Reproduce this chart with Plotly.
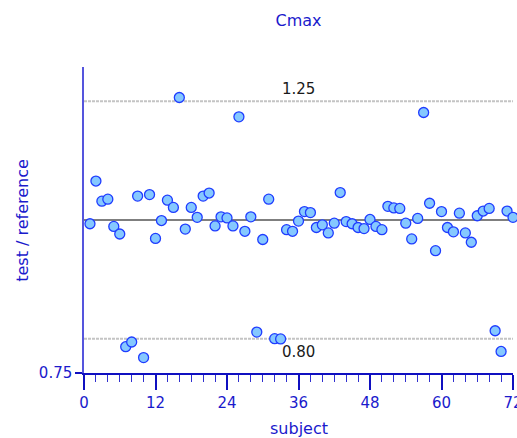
import numpy as np
import plotly.graph_objects as go

# Test / reference ratio of Cmax for each subject
subjects = list(range(1, 73))
ratios = [
    0.993, 1.076, 1.036, 1.040, 0.988, 0.974, 0.788, 0.795, 1.046, 0.772,
    1.049, 0.966, 0.999, 1.038, 1.024, 1.259, 0.983, 1.024, 1.005, 1.046,
    1.052, 0.989, 1.006, 1.004, 0.989, 1.214, 0.979, 1.006, 0.810, 0.964,
    1.040, 0.800, 0.7996, 0.982, 0.979, 0.998, 1.016, 1.014, 0.986, 0.991,
    0.976, 0.994, 1.053, 0.997, 0.993, 0.986, 0.984, 1.001, 0.988, 0.982,
    1.026, 1.023, 1.022, 0.994, 0.965, 1.003, 1.224, 1.032, 0.944, 1.016,
    0.986, 0.978, 1.013, 0.976, 0.959, 1.008, 1.017, 1.022, 0.812, 0.781,
    1.017, 1.005,
]

# Acceptance limits and unity line
limits = [0.80, 1.25]
limit_labels = ["0.80", "1.25"]
unity = 1.0

x_range = [0, 72]
y_range = [0.75, 1 / 0.75]
x_ticks = list(range(0, 73, 12))
y_ticks = [0.75]
y_tick_labels = ["0.75"]

BLUE = "#1a1acc"
FONT = "DejaVu Sans"

fig = go.Figure()

for lim in limits:
    fig.add_trace(go.Scatter(
        x=x_range, y=[lim, lim], mode="lines",
        line=dict(color="#c4c4c4", width=2, dash="3px,1px"),
        hoverinfo="skip", showlegend=False,
    ))

fig.add_trace(go.Scatter(
    x=x_range, y=[unity, unity], mode="lines",
    line=dict(color="#555555", width=1.5),
    hoverinfo="skip", showlegend=False,
))

fig.add_trace(go.Scatter(
    x=subjects, y=ratios, mode="markers",
    marker=dict(size=10, color="#85c8ff", line=dict(color="#1f3cff", width=1.3)),
    cliponaxis=False, showlegend=False,
))

# limit labels (annotation y on a log axis is given in log10 units)
fig.add_annotation(x=36, y=np.log10(limits[1]), text=limit_labels[1],
                   showarrow=False, yanchor="middle", yshift=12,
                   font=dict(family=FONT, size=15, color="#1a1a1a"))
fig.add_annotation(x=36, y=np.log10(limits[0]), text=limit_labels[0],
                   showarrow=False, yanchor="middle", yshift=-13,
                   font=dict(family=FONT, size=15, color="#1a1a1a"))

# axis titles
fig.add_annotation(xref="paper", yref="paper", x=0.5, y=-0.18,
                   text="subject", showarrow=False, yanchor="middle",
                   font=dict(family=FONT, size=16, color=BLUE))
fig.add_annotation(xref="paper", yref="paper", x=-0.145, y=0.5,
                   text="test / reference", showarrow=False, textangle=-90,
                   xanchor="center", yanchor="middle",
                   font=dict(family=FONT, size=16, color=BLUE))

fig.update_layout(
    width=517, height=438,
    margin=dict(l=84, r=4, t=67, b=65),
    paper_bgcolor="white", plot_bgcolor="white",
    title=dict(text="Cmax", x=0.5, xref="paper", y=1 - 20 / 438,
               yanchor="middle",
               font=dict(family=FONT, size=16, color=BLUE)),
    font=dict(family=FONT, size=15, color=BLUE),
)

fig.update_xaxes(
    range=x_range, tickmode="array", tickvals=x_ticks,
    ticks="outside", ticklen=15, tickwidth=1.5, tickcolor="#1010c0",
    minor=dict(dtick=2, tick0=0, ticks="outside", ticklen=7,
               tickwidth=1, tickcolor="#3030d0"),
    showline=True, linecolor="#1010c0", linewidth=1.5,
    showgrid=False, zeroline=False,
    ticklabeloverflow="allow", automargin=False,
    tickfont=dict(family=FONT, size=15, color=BLUE),
)

fig.update_yaxes(
    type="log", range=[np.log10(y_range[0]), np.log10(y_range[1])],
    tickmode="array", tickvals=y_ticks, ticktext=y_tick_labels,
    ticks="outside", ticklen=7, tickwidth=1.5, tickcolor="#1010c0",
    showline=True, linecolor="#5555dd", linewidth=1.5,
    showgrid=False, zeroline=False, automargin=False,
    tickfont=dict(family=FONT, size=15, color=BLUE),
)

fig.write_html("out.html")
